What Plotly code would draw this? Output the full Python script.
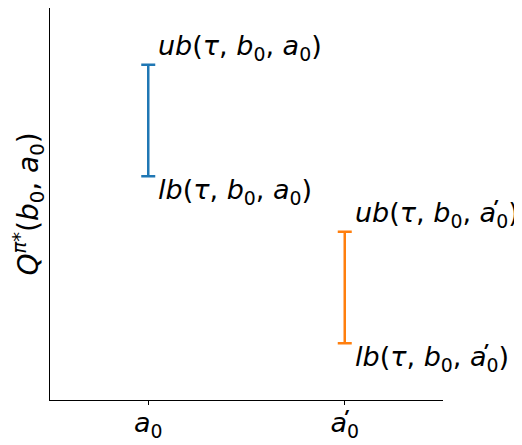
import plotly.graph_objects as go

SP = " "
PRIME_A = "<i>a\u0315</i>"
categories = [0, 1]
tick_labels = ["<i>a</i><sub>0</sub>", PRIME_A + "<sub>0</sub>"]
upper = [8.55, 4.29]
lower = [5.71, 1.45]
colors = ["#1f77b4", "#ff7f0e"]
ub_labels = ["<i>ub</i>(<i>τ</i>," + SP + "<i>b</i><sub>0</sub>," + SP + "<i>a</i><sub>0</sub>)",
             "<i>ub</i>(<i>τ</i>," + SP + "<i>b</i><sub>0</sub>," + SP + PRIME_A + "<sub>0</sub>)"]
lb_labels = ["<i>lb</i>(<i>τ</i>," + SP + "<i>b</i><sub>0</sub>," + SP + "<i>a</i><sub>0</sub>)",
             "<i>lb</i>(<i>τ</i>," + SP + "<i>b</i><sub>0</sub>," + SP + PRIME_A + "<sub>0</sub>)"]

FONT = "DejaVu Sans"
FS = 27
fig = go.Figure()
for i, x in enumerate(categories):
    mid = (upper[i] + lower[i]) / 2
    half = (upper[i] - lower[i]) / 2
    fig.add_trace(go.Scatter(
        x=[x], y=[mid], mode="markers",
        marker=dict(size=0.1, color=colors[i], opacity=0),
        error_y=dict(type="data", array=[half], symmetric=True,
                     color=colors[i], thickness=2.5, width=7),
        showlegend=False, hoverinfo="skip"))
    fig.add_annotation(x=x + 0.04, y=upper[i], text=ub_labels[i], showarrow=False,
                       xanchor="left", yanchor="bottom", yshift=-2,
                       font=dict(family=FONT, size=FS, color="black"))
    fig.add_annotation(x=x + 0.04, y=lower[i], text=lb_labels[i], showarrow=False,
                       xanchor="left", yanchor="top", yshift=4,
                       font=dict(family=FONT, size=FS, color="black"))

fig.update_layout(
    template="none",
    width=514, height=437,
    margin=dict(l=42, r=79, t=0, b=45, autoexpand=False),
    paper_bgcolor="white", plot_bgcolor="white",
    font=dict(family=FONT, size=FS, color="black"),
    xaxis=dict(range=[-0.5, 1.5], tickvals=categories, ticktext=tick_labels,
               showgrid=False, zeroline=False, showline=True, linecolor="black",
               linewidth=1, ticks="outside", ticklen=4, tickcolor="black",
               automargin=False, ticklabelstandoff=-5,
               tickfont=dict(family=FONT, size=FS, color="black")),
    yaxis=dict(range=[0, 10], showticklabels=False, showgrid=False, zeroline=False,
               showline=True, linecolor="black", linewidth=1, ticks="",
               automargin=False,
               title=dict(text="<i>Q</i><sup><i>π</i>*</sup>(<i>b</i><sub>0</sub>," + SP + "<i>a</i><sub>0</sub>)",
                          font=dict(family=FONT, size=28, color="black"), standoff=2)),
)
fig.write_html("out.html")
